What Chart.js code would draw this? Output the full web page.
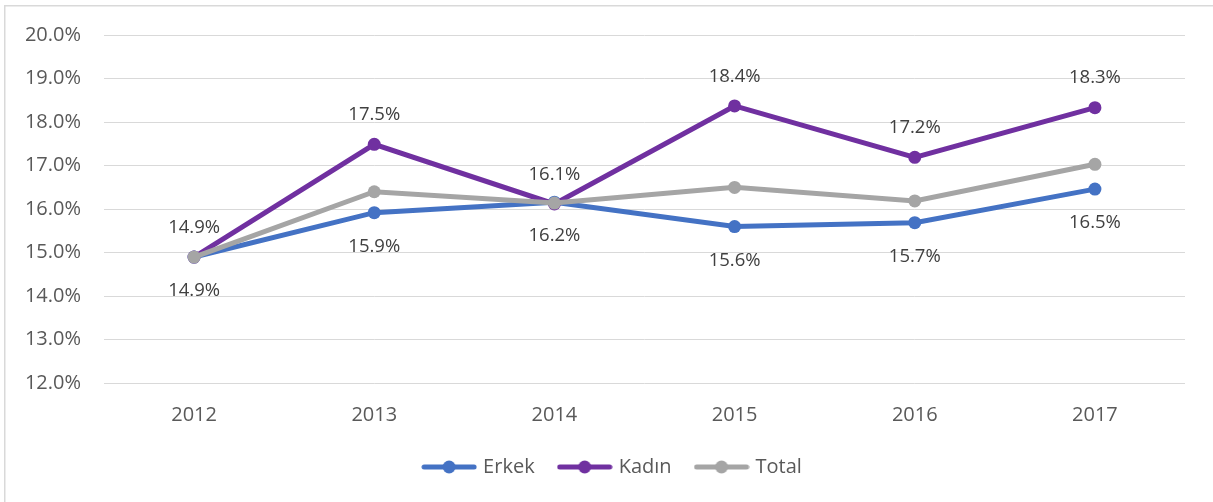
<!DOCTYPE html>
<html>
<head>
<meta charset="utf-8">
<script src="https://cdn.jsdelivr.net/npm/chart.js@4/dist/chart.umd.min.js"></script>
<style>
  html, body { margin: 0; padding: 0; background: #ffffff; }
  #wrap { position: relative; width: 1213px; height: 502px; }
</style>
</head>
<body>
<div id="wrap"><canvas id="c" width="1213" height="502"></canvas></div>
<script>
// ---- data ----
const years = ['2012', '2013', '2014', '2015', '2016', '2017'];
const seriesNames = ['Erkek', 'Kadın', 'Total'];
const erkek = [14.9, 15.92, 16.16, 15.6, 15.69, 16.46];
const kadin = [14.9, 17.49, 16.12, 18.37, 17.19, 18.33];
const total = [14.9, 16.4, 16.14, 16.5, 16.19, 17.03];
const yMin = 12, yMax = 20, yStep = 1;

const colors = ['#4472C4', '#7030A0', '#A5A5A5'];
const FONT = "'Open Sans', 'Liberation Sans', sans-serif";

function makeIcon(color) {
  const c = document.createElement('canvas');
  c.width = 56; c.height = 16;
  const g = c.getContext('2d');
  g.strokeStyle = color; g.lineWidth = 5; g.lineCap = 'round';
  g.beginPath(); g.moveTo(3, 8); g.lineTo(53, 8); g.stroke();
  g.fillStyle = color;
  g.beginPath(); g.arc(28, 8, 6.5, 0, Math.PI * 2); g.fill();
  return c;
}

const frame = {
  id: 'frame',
  afterLayout(chart) {
    if (chart.legend) { chart.legend.left = 42; chart.legend.right = 1185; }
  },
  beforeDraw(chart) {
    const ctx = chart.ctx;
    ctx.save();
    ctx.fillStyle = '#ffffff';
    ctx.fillRect(0, 0, chart.width, chart.height);
    ctx.strokeStyle = '#D9D9D9';
    ctx.lineWidth = 1.5;
    ctx.strokeRect(4.75, 5.75, 1300, 600);
    ctx.restore();
  }
};

const dataLabels = {
  id: 'dataLabels',
  afterDatasetsDraw(chart) {
    const ctx = chart.ctx;
    ctx.save();
    ctx.font = "18.5px " + FONT;
    ctx.fillStyle = '#404040';
    ctx.textAlign = 'center';
    ctx.textBaseline = 'middle';
    chart.data.datasets.forEach((ds, i) => {
      if (!ds.labelPos) return;
      const meta = chart.getDatasetMeta(i);
      meta.data.forEach((pt, j) => {
        const txt = ds.data[j].toFixed(1) + '%';
        const dy = ds.labelPos === 'above' ? -29.5 : 34;
        ctx.fillText(txt, pt.x, pt.y + dy);
      });
    });
    ctx.restore();
  }
};

const seriesData = [erkek, kadin, total];
const labelPositions = ['below', 'above', null];
const orders = [3, 2, 1];

new Chart(document.getElementById('c'), {
  type: 'line',
  data: {
    labels: years,
    datasets: seriesNames.map((name, i) => ({
      label: name,
      data: seriesData[i],
      borderColor: colors[i],
      backgroundColor: colors[i],
      pointBackgroundColor: colors[i],
      pointBorderWidth: 0,
      pointRadius: 6.5,
      borderWidth: 5,
      tension: 0,
      fill: false,
      order: orders[i],
      labelPos: labelPositions[i]
    }))
  },
  options: {
    responsive: false,
    animation: false,
    devicePixelRatio: 1,
    layout: { padding: { left: 0, right: 28, top: 35, bottom: 15 } },
    plugins: {
      tooltip: { enabled: false },
      legend: {
        position: 'bottom',
        labels: {
          usePointStyle: true,
          pointStyleWidth: 48,
          padding: 26,
          color: '#595959',
          font: { family: FONT, size: 20 },
          generateLabels(chart) {
            return chart.data.datasets.map((ds, i) => ({
              text: ds.label,
              datasetIndex: i,
              fillStyle: ds.borderColor,
              strokeStyle: ds.borderColor,
              lineWidth: 0,
              hidden: false,
              fontColor: '#595959',
              pointStyle: makeIcon(ds.borderColor)
            }));
          }
        }
      }
    },
    scales: {
      x: {
        offset: true,
        grid: { display: false, drawTicks: false, offset: true },
        border: { display: false },
        ticks: { color: '#595959', font: { family: FONT, size: 20 }, padding: 20, maxRotation: 0 },
        afterFit(scale) { scale.height = 47.7; }
      },
      y: {
        min: yMin, max: yMax,
        grid: { color: '#D9D9D9', lineWidth: 1, drawTicks: false },
        border: { display: false },
        ticks: {
          stepSize: yStep,
          color: '#595959',
          font: { family: FONT, size: 20 },
          padding: 23,
          callback: v => v.toFixed(1) + '%'
        },
        afterFit(scale) { scale.width = 104; }
      }
    }
  },
  plugins: [frame, dataLabels]
});
</script>
</body>
</html>
